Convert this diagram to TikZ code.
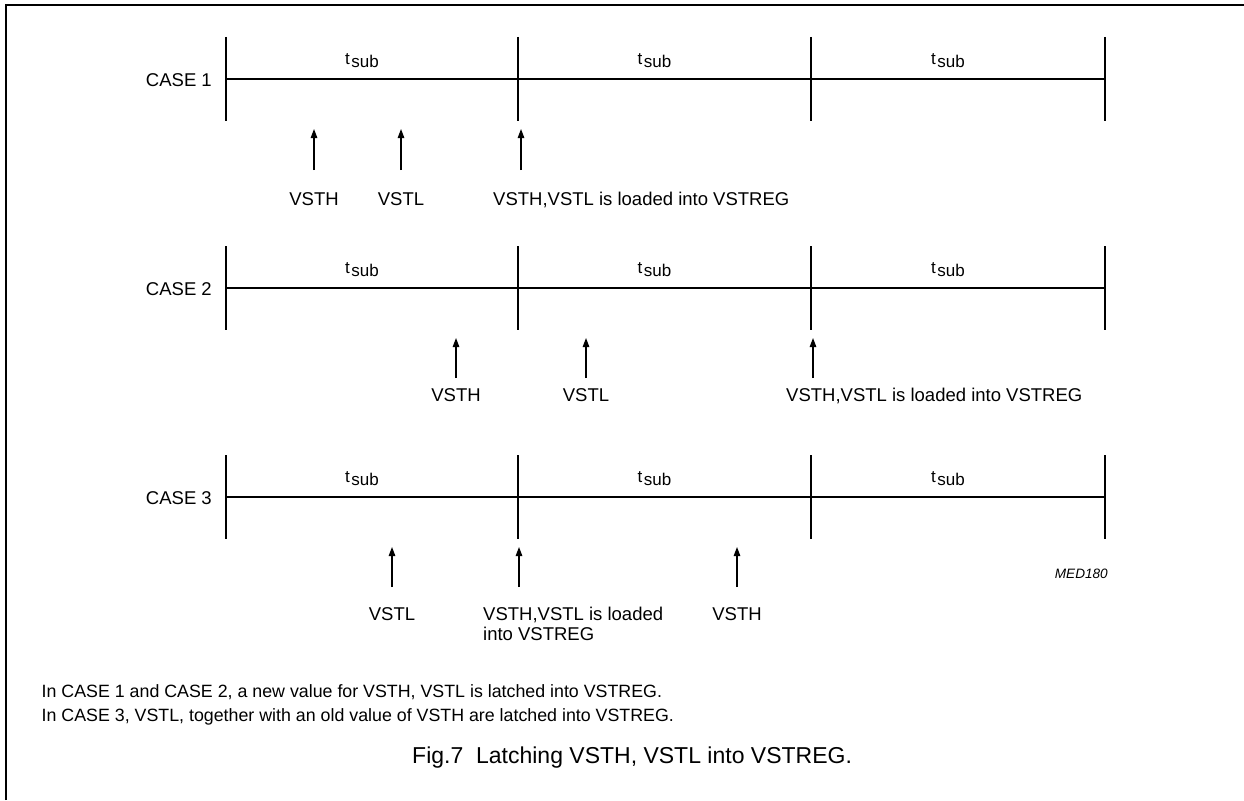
\documentclass[tikz,border=0pt]{standalone}
\usepackage{fontspec}
\setmainfont{Liberation Sans}
\usetikzlibrary{arrows.meta}
\begin{document}
\begin{tikzpicture}[x=1pt,y=-1pt,
  lbl/.style={font=\fontsize{18.5}{20}\selectfont, inner sep=0pt, anchor=base},
  tsub/.style={font=\fontsize{17}{19}\selectfont, inner sep=0pt, anchor=base},
  note/.style={font=\fontsize{17.8}{20}\selectfont, inner sep=0pt, anchor=base west},
  timeline/.style={line width=2.6pt},
  tickline/.style={line width=1.6pt},
  sig/.style={line width=1.2pt, -{Triangle[length=9pt,width=6.5pt]}},
  frame/.style={line width=2pt}]
\useasboundingbox (0,0) rectangle (1244,800);
\draw[frame] (6,800) -- (6,5) -- (1244,5);
% timelines
\foreach \r/\y in {1/79,2/288,3/497}{
  \node[lbl, anchor=base east] (case\r) at (212,\y+7.5) {CASE \r};
  \coordinate (ta\r) at (226,\y);
  \coordinate (td\r) at (1105,\y);
  \draw[timeline] (ta\r) -- (td\r);
  \foreach \x in {226,518,811,1105}{
    \draw[tickline] (\x,\y-42) -- (\x,\y+42);
  }
  \foreach \x/\k in {362/1,654.5/2,948/3}{
    \node[tsub] (ts\r\k) at (\x,\y-15) {t\raisebox{-3.5pt}{\hspace{1.5pt}sub}};
  }
}
% row 1 arrows (line y=79)
\foreach \x/\n in {314/p,401/q,521/s}{
  \coordinate (r1\n b) at (\x,170);
  \coordinate (r1\n t) at (\x,129);
  \draw[sig] (r1\n b) -- (r1\n t);
}
\node[lbl] (r1vsth) at (314,205) {VSTH};
\node[lbl] (r1vstl) at (401,205) {VSTL};
\node[lbl, anchor=base west] (r1load) at (493,205) {VSTH,VSTL is loaded into VSTREG};
% row 2 arrows (line y=288)
\foreach \x/\n in {456/p,586/q,813/s}{
  \coordinate (r2\n b) at (\x,378);
  \coordinate (r2\n t) at (\x,338);
  \draw[sig] (r2\n b) -- (r2\n t);
}
\node[lbl] (r2vsth) at (456,401) {VSTH};
\node[lbl] (r2vstl) at (586,401) {VSTL};
\node[lbl, anchor=base west] (r2load) at (786,401) {VSTH,VSTL is loaded into VSTREG};
% row 3 arrows (line y=497)
\foreach \x/\n in {392/p,519/q,737/s}{
  \coordinate (r3\n b) at (\x,587);
  \coordinate (r3\n t) at (\x,547);
  \draw[sig] (r3\n b) -- (r3\n t);
}
\node[lbl] (r3vstl) at (392,620) {VSTL};
\node[lbl, anchor=base west] (r3load) at (483,620) {VSTH,VSTL is loaded};
\node[lbl, anchor=base west] (r3load2) at (483,640) {into VSTREG};
\node[lbl] (r3vsth) at (737,620) {VSTH};
\node[font=\fontsize{13.6}{15}\selectfont\itshape, inner sep=0pt, anchor=base east] (med) at (1108,578) {MED180};
% notes
\node[note] (n1) at (41.5,697) {In CASE 1 and CASE 2, a new value for VSTH, VSTL is latched into VSTREG.};
\node[note] (n2) at (41.5,721.5) {In CASE 3, VSTL, together with an old value of VSTH are latched into VSTREG.};
\node[font=\fontsize{23}{25}\selectfont, inner sep=0pt, anchor=base west] (cap) at (412,763) {Fig.7\ \ Latching VSTH, VSTL into VSTREG.};
\end{tikzpicture}
\end{document}
